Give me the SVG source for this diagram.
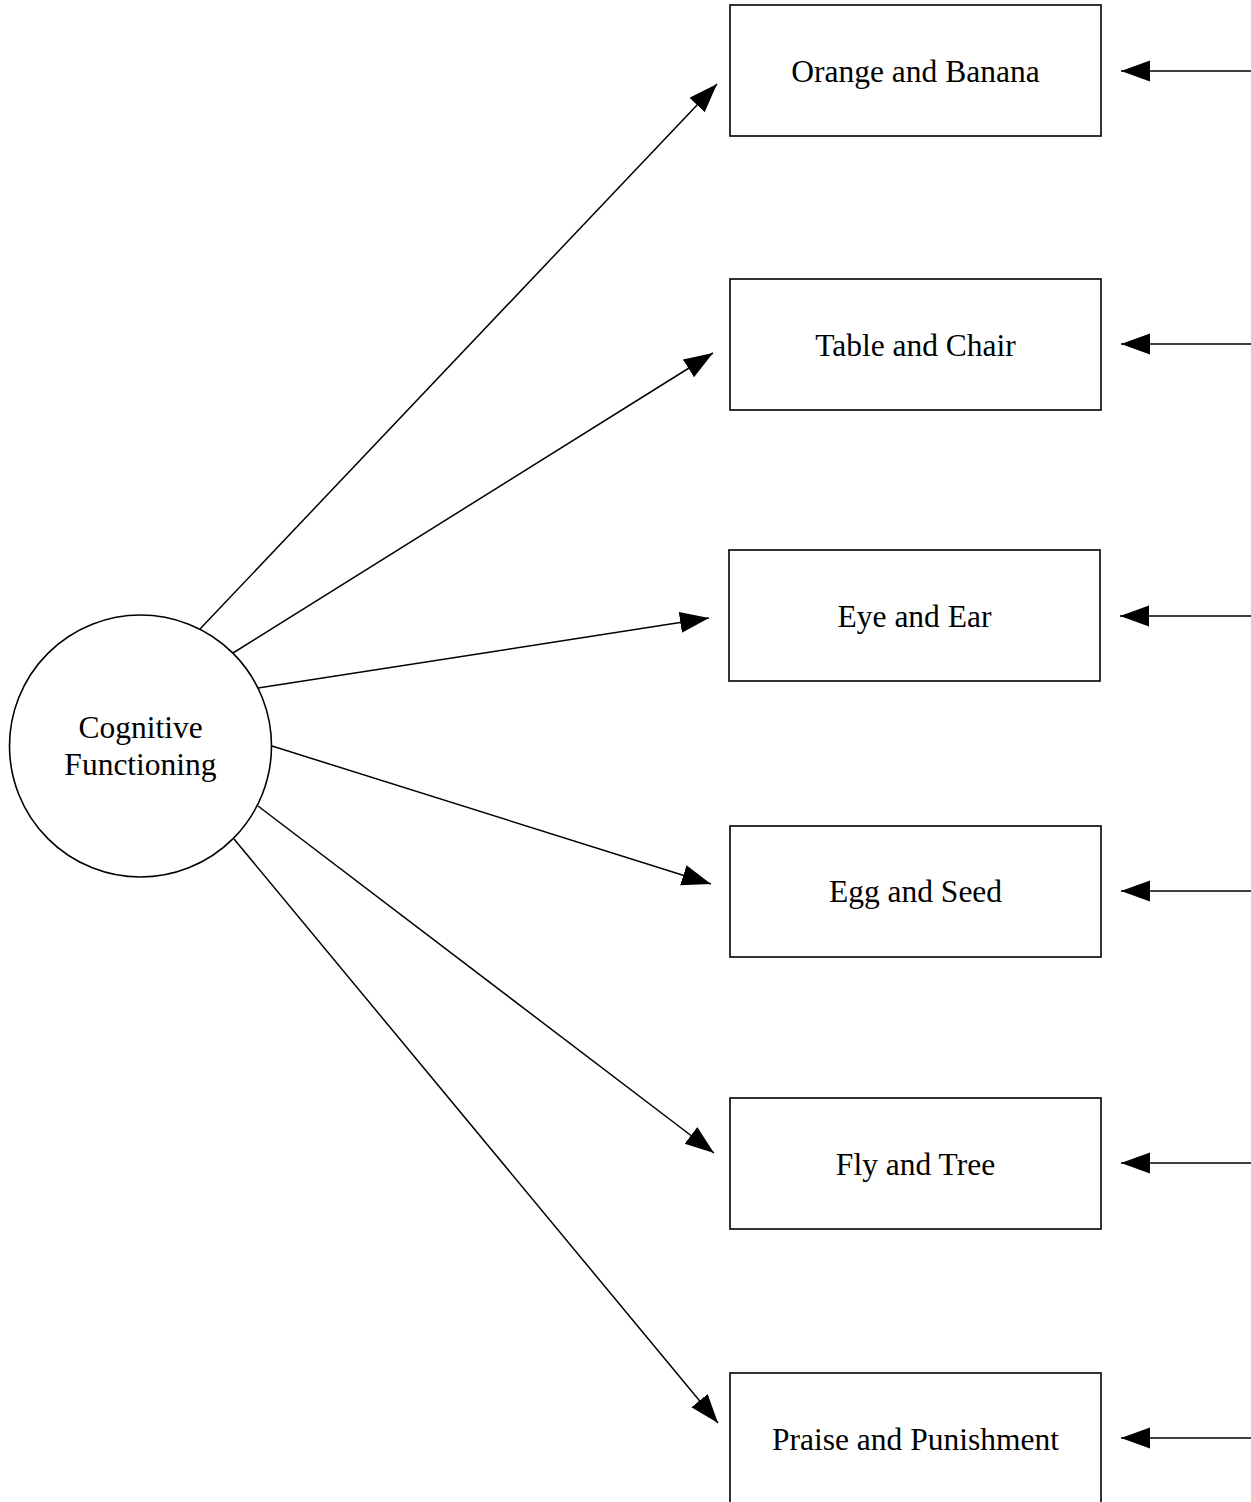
<svg xmlns="http://www.w3.org/2000/svg" width="1251" height="1502" viewBox="0 0 1251 1502">
<style>
.box{fill:#fff;stroke:#000;stroke-width:1.6}
.lbl{font-family:"Liberation Serif","Times New Roman",serif;font-size:31.5px;fill:#000;text-anchor:middle}
.edge{stroke:#000;stroke-width:1.5;fill:none;marker-end:url(#ah)}
</style>
<defs>
<marker id="ah" markerUnits="userSpaceOnUse" markerWidth="30" markerHeight="22" refX="29" refY="10.5" orient="auto">
<path d="M0,0 L29,10.5 L0,21 Z" fill="#000"/>
</marker>
</defs>
<rect width="1251" height="1502" fill="#fff"/>
<g id="connectors">
<line class="edge" x1="200" y1="629" x2="717" y2="84"/>
<line class="edge" x1="233" y1="653" x2="713" y2="353"/>
<line class="edge" x1="258" y1="688" x2="709" y2="618"/>
<line class="edge" x1="272" y1="746" x2="711" y2="884"/>
<line class="edge" x1="258" y1="806" x2="714" y2="1153"/>
<line class="edge" x1="234" y1="839" x2="718" y2="1423"/>
<line class="edge" x1="1251" y1="71" x2="1121" y2="71"/>
<line class="edge" x1="1251" y1="344" x2="1121" y2="344"/>
<line class="edge" x1="1251" y1="616" x2="1120" y2="616"/>
<line class="edge" x1="1251" y1="891" x2="1121" y2="891"/>
<line class="edge" x1="1251" y1="1163" x2="1121" y2="1163"/>
<line class="edge" x1="1251" y1="1438" x2="1121" y2="1438"/>
</g>
<g id="cognitive">
<circle cx="140.5" cy="746" r="131" fill="#fff" stroke="#000" stroke-width="1.6"/>
<text class="lbl" x="140.5" y="738">Cognitive</text>
<text class="lbl" x="140.5" y="775">Functioning</text>
</g>
<g id="orange"><rect class="box" x="730" y="5" width="371" height="131"/><text class="lbl" x="915.5" y="82">Orange and Banana</text></g>
<g id="table"><rect class="box" x="730" y="279" width="371" height="131"/><text class="lbl" x="915.5" y="356">Table and Chair</text></g>
<g id="eye"><rect class="box" x="729" y="550" width="371" height="131"/><text class="lbl" x="914.5" y="627">Eye and Ear</text></g>
<g id="egg"><rect class="box" x="730" y="826" width="371" height="131"/><text class="lbl" x="915.5" y="902">Egg and Seed</text></g>
<g id="fly"><rect class="box" x="730" y="1098" width="371" height="131"/><text class="lbl" x="915.5" y="1175">Fly and Tree</text></g>
<g id="praise"><rect class="box" x="730" y="1373" width="371" height="131"/><text class="lbl" x="915.5" y="1450">Praise and Punishment</text></g>
</svg>
